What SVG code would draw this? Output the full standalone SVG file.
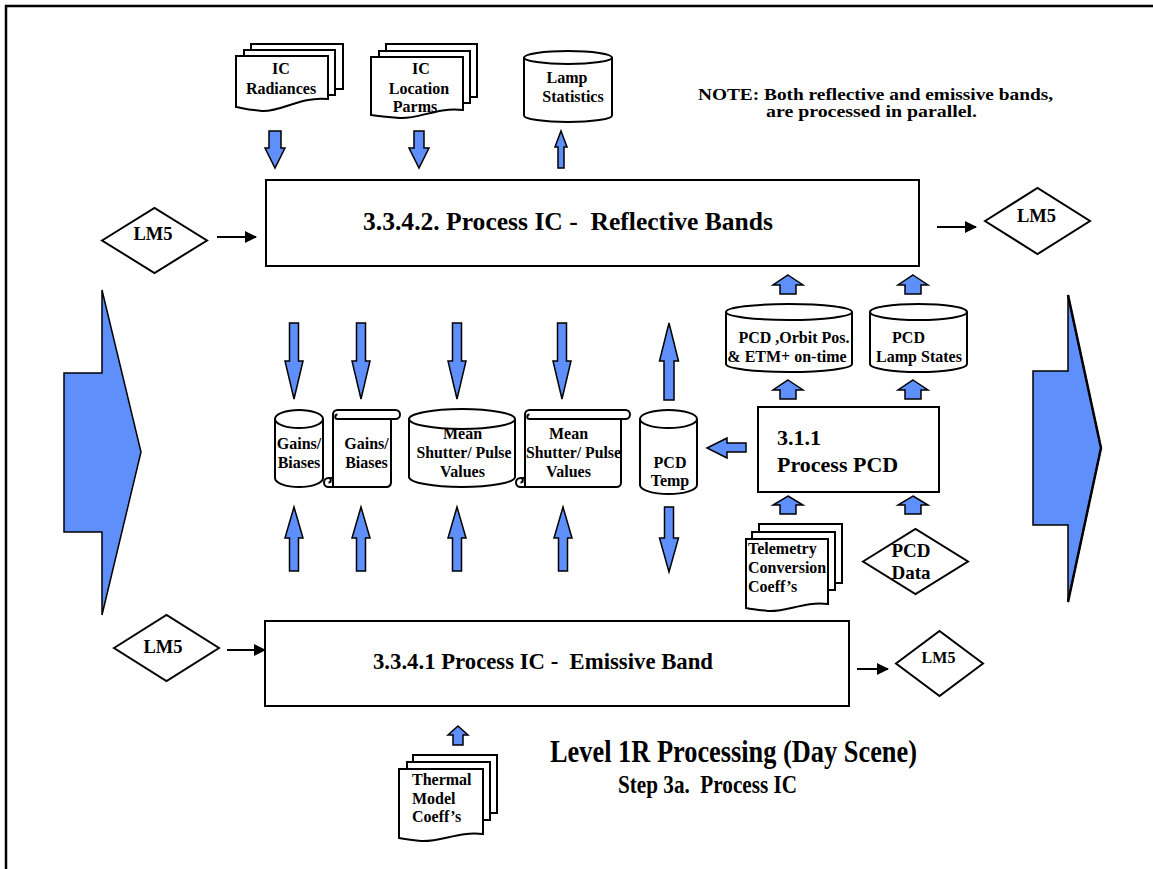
<svg xmlns="http://www.w3.org/2000/svg" width="1153" height="869" viewBox="0 0 1153 869">
  <style>
    .shape { fill: #fff; stroke: #000; stroke-width: 2; }
    .thin { fill: none; stroke: #000; stroke-width: 2; }
    .blk { fill: #5E8FFA; stroke: #000; stroke-width: 1.5; stroke-linejoin: miter; }
    .t { font-family: "Liberation Serif", "Times New Roman", serif; font-weight: bold; fill: #000; }
    .s16 { font-size: 16px; }
    .mid { text-anchor: middle; }
    .link { stroke: #000; stroke-width: 2; fill: none; marker-end: url(#head); }
  </style>
  <defs>
    <marker id="head" viewBox="0 0 12 12" refX="11" refY="6" markerWidth="12" markerHeight="12" markerUnits="userSpaceOnUse" orient="auto">
      <path d="M0,0 L12,6 L0,12 Z" fill="#000"/>
    </marker>
  </defs>

  <rect width="1153" height="869" fill="#fff"/>

  <!-- page frame: top and left rules -->
  <g id="frame">
    <path d="M6,869 V6 H1153" fill="none" stroke="#000" stroke-width="2.5"/>
  </g>

  <!-- large flow arrows at either side -->
  <g id="flow-in">
    <polygon class="blk" points="64,373 102,373 102,290 141,452 102,615 102,532 64,532"/>
  </g>
  <g id="flow-out">
    <polygon class="blk" points="1033,371 1068,371 1068,295 1101,448 1068,602 1068,525 1033,525"/>
    <polyline points="1068,295 1101,448 1068,602" fill="none" stroke="#000" stroke-width="2.5"/>
  </g>

  <!-- inputs above the reflective process -->
  <g id="ic-radiances">
    <rect class="shape" x="251" y="44" width="92" height="45"/>
    <rect class="shape" x="244" y="50" width="91" height="45"/>
    <path class="shape" d="M236,56 H328 V99 C300,96 282,112 262,111 C250,110 242,108 236,107 Z"/>
    <text class="t s16 mid" x="281" y="74">IC</text>
    <text class="t s16 mid" x="281" y="94">Radiances</text>
  </g>
  <g id="ic-location-parms">
    <rect class="shape" x="386" y="44" width="91" height="53"/>
    <rect class="shape" x="379" y="51" width="91" height="52"/>
    <path class="shape" d="M371,57 H463 V110 C436,107 420,119 400,118 C388,117 378,116 371,115 Z"/>
    <text class="t s16 mid" x="421" y="74">IC</text>
    <text class="t s16 mid" x="419" y="94">Location</text>
    <text class="t s16 mid" x="415" y="112">Parms</text>
  </g>
  <g id="lamp-statistics">
    <path class="shape" d="M524,57.5 V115.5 A44 6.5 0 0 0 612,115.5 V57.5 A44 6.5 0 0 0 524,57.5 Z"/>
    <path class="thin" d="M524,57.5 A44 6.5 0 0 0 612,57.5"/>
    <text class="t s16 mid" x="567" y="83">Lamp</text>
    <text class="t s16 mid" x="573" y="102">Statistics</text>
  </g>

  <text class="t" x="698" y="100" font-size="16" textLength="355" lengthAdjust="spacingAndGlyphs">NOTE: Both reflective and emissive bands,</text>
  <text class="t" x="766" y="117" font-size="16" textLength="211" lengthAdjust="spacingAndGlyphs">are processed in parallel.</text>

  <!-- reflective band process -->
  <g id="process-reflective">
    <rect class="shape" x="266" y="180" width="653" height="86"/>
    <text class="t" x="363" y="230" font-size="25" textLength="410" lengthAdjust="spacingAndGlyphs" xml:space="preserve">3.3.4.2. Process IC -  Reflective Bands</text>
  </g>

  <g id="lm5-refl-in">
    <polygon class="shape" points="102,240.5 154.5,208 207,240.5 154.5,273"/>
    <text class="t mid" x="153" y="240" font-size="18.5">LM5</text>
  </g>
  <g id="lm5-refl-out">
    <polygon class="shape" points="985,221 1037.5,188 1090,221 1037.5,254"/>
    <text class="t mid" x="1036.5" y="222" font-size="18.5">LM5</text>
  </g>

  <!-- stores shared by both processes -->
  <g id="gains-biases-store">
    <path class="shape" d="M275,419 V478 A24 9 0 0 0 323,478 V419 A24 9 0 0 0 275,419 Z"/>
    <path class="thin" d="M275,419 A24 9 0 0 0 323,419"/>
    <text class="t s16 mid" x="299" y="449">Gains/</text>
    <text class="t s16 mid" x="299" y="468">Biases</text>
  </g>
  <g id="gains-biases-file">
    <path class="shape" d="M337.5,410 H395.5 A4.5 4.5 0 0 1 395.5,419 H391 V482.5 A4.5 4.5 0 0 1 386.5,487 H328.5 A4.5 4.5 0 0 1 328.5,478 H333 V414.5 A4.5 4.5 0 0 1 337.5,410 Z"/>
    <path class="thin" d="M337.5,419 H391 M337.5,419 A2.25 2.25 0 0 1 337.5,414.5 M333,478 V487 M328.5,478 A2.25 2.25 0 0 1 328.5,482.5" stroke-width="1.5"/>
    <text class="t s16 mid" x="366.5" y="449">Gains/</text>
    <text class="t s16 mid" x="366.5" y="468">Biases</text>
  </g>
  <g id="mean-values-store">
    <path class="shape" d="M409,419 V477 A53 10 0 0 0 515,477 V419 A53 10 0 0 0 409,419 Z"/>
    <path class="thin" d="M409,419 A53 10 0 0 0 515,419"/>
    <text class="t s16 mid" x="462.5" y="439">Mean</text>
    <text class="t s16 mid" x="464" y="458" textLength="95" lengthAdjust="spacingAndGlyphs">Shutter/ Pulse</text>
    <text class="t s16 mid" x="462.5" y="477">Values</text>
  </g>
  <g id="mean-values-file">
    <path class="shape" d="M529.5,410 H625.5 A4.5 4.5 0 0 1 625.5,419 H621 V482.5 A4.5 4.5 0 0 1 616.5,487 H520.5 A4.5 4.5 0 0 1 520.5,478 H525 V414.5 A4.5 4.5 0 0 1 529.5,410 Z"/>
    <path class="thin" d="M529.5,419 H621 M529.5,419 A2.25 2.25 0 0 1 529.5,414.5 M525,478 V487 M520.5,478 A2.25 2.25 0 0 1 520.5,482.5" stroke-width="1.5"/>
    <text class="t s16 mid" x="568.5" y="439">Mean</text>
    <text class="t s16 mid" x="573.5" y="458" textLength="95" lengthAdjust="spacingAndGlyphs">Shutter/ Pulse</text>
    <text class="t s16 mid" x="568.5" y="477">Values</text>
  </g>
  <g id="pcd-temp">
    <path class="shape" d="M640,419 V485 A28.5 9 0 0 0 697,485 V419 A28.5 9 0 0 0 640,419 Z"/>
    <path class="thin" d="M640,419 A28.5 9 0 0 0 697,419"/>
    <text class="t s16 mid" x="670" y="468">PCD</text>
    <text class="t s16 mid" x="670" y="486">Temp</text>
  </g>

  <!-- PCD processing -->
  <g id="pcd-orbit">
    <path class="shape" d="M726,312 V364 A63 8 0 0 0 852,364 V312 A63 8 0 0 0 726,312 Z"/>
    <path class="thin" d="M726,312 A63 8 0 0 0 852,312"/>
    <text class="t s16 mid" x="794" y="343">PCD ,Orbit Pos.</text>
    <text class="t s16 mid" x="787" y="362">&amp; ETM+ on-time</text>
  </g>
  <g id="pcd-lamp-states">
    <path class="shape" d="M870,312 V364 A48.5 8 0 0 0 967,364 V312 A48.5 8 0 0 0 870,312 Z"/>
    <path class="thin" d="M870,312 A48.5 8 0 0 0 967,312"/>
    <text class="t s16 mid" x="908.5" y="343">PCD</text>
    <text class="t s16 mid" x="919" y="362">Lamp States</text>
  </g>
  <g id="process-pcd">
    <rect class="shape" x="758" y="407" width="181" height="85"/>
    <text class="t" x="777" y="445" font-size="22">3.1.1</text>
    <text class="t" x="777" y="472" font-size="22">Process PCD</text>
  </g>
  <g id="telemetry-coeffs">
    <rect class="shape" x="759" y="524" width="83" height="59"/>
    <rect class="shape" x="752" y="532" width="83" height="58"/>
    <path class="shape" d="M746,539 H828 V604 C804,601 788,612 768,611 C758,610 751,609 746,608 Z"/>
    <text class="t s16" x="748" y="554">Telemetry</text>
    <text class="t s16" x="748" y="573">Conversion</text>
    <text class="t s16" x="748" y="592">Coeff’s</text>
  </g>
  <g id="pcd-data">
    <polygon class="shape" points="863,561.5 915.5,529 968,561.5 915.5,594"/>
    <text class="t mid" x="911" y="557" font-size="19">PCD</text>
    <text class="t mid" x="911" y="579" font-size="19">Data</text>
  </g>

  <!-- emissive band process -->
  <g id="process-emissive">
    <rect class="shape" x="265" y="621" width="584" height="85"/>
    <text class="t" x="373" y="669" font-size="24" textLength="340" lengthAdjust="spacingAndGlyphs" xml:space="preserve">3.3.4.1 Process IC -  Emissive Band</text>
  </g>
  <g id="lm5-emis-in">
    <polygon class="shape" points="114,648 166.5,615 219,648 166.5,681"/>
    <text class="t mid" x="163" y="653" font-size="18.5">LM5</text>
  </g>
  <g id="lm5-emis-out">
    <polygon class="shape" points="896,663.5 939.5,631 983,663.5 939.5,696"/>
    <text class="t mid" x="938.5" y="663" font-size="16">LM5</text>
  </g>
  <g id="thermal-coeffs">
    <rect class="shape" x="413" y="755" width="84" height="58"/>
    <rect class="shape" x="407" y="762" width="83" height="58"/>
    <path class="shape" d="M399,769 H483 V834 C458,831 442,842 421,841 C411,840 404,839 399,838 Z"/>
    <text class="t s16" x="412" y="785">Thermal</text>
    <text class="t s16" x="412" y="804">Model</text>
    <text class="t s16" x="412" y="822">Coeff’s</text>
  </g>

  <!-- title -->
  <g id="title">
    <text class="t" x="550" y="762" font-size="32" textLength="367" lengthAdjust="spacingAndGlyphs">Level 1R Processing (Day Scene)</text>
    <text class="t" x="618" y="793" font-size="25" textLength="179" lengthAdjust="spacingAndGlyphs" xml:space="preserve">Step 3a.  Process IC</text>
  </g>

  <!-- connectors -->
  <g id="connectors">
    <line class="link" x1="217" y1="237" x2="256" y2="237"/>
    <line class="link" x1="937" y1="227" x2="976" y2="227"/>
    <line class="link" x1="227" y1="650" x2="265" y2="650"/>
    <line class="link" x1="857" y1="669" x2="888" y2="669"/>

    <polygon class="blk" points="269,131 281,131 281,148 285,148 275,168 265,148 269,148"/>
    <polygon class="blk" points="414,131 424,131 424,148 429,148 419,168 409,148 414,148"/>
    <polygon class="blk" points="561,131 567,147 564,147 564,168 558,168 558,147 555,147"/>

    <polygon class="blk" points="289.5,323 298.5,323 298.5,361 303,361 294,399 285,361 289.5,361"/>
    <polygon class="blk" points="356.5,323 365.5,323 365.5,361 370,361 361,399 352,361 356.5,361"/>
    <polygon class="blk" points="452.5,323 461.5,323 461.5,361 466,361 457,399 448,361 452.5,361"/>
    <polygon class="blk" points="557.5,323 566.5,323 566.5,361 571,361 562,399 553,361 557.5,361"/>
    <polygon class="blk" points="669,323 678.5,361 674,361 674,400 664,400 664,361 659.5,361"/>

    <polygon class="blk" points="294,507 303,538 298.5,538 298.5,571 289.5,571 289.5,538 285,538"/>
    <polygon class="blk" points="361,507 370,538 365.5,538 365.5,571 356.5,571 356.5,538 352,538"/>
    <polygon class="blk" points="457,507 466,538 461.5,538 461.5,571 452.5,571 452.5,538 448,538"/>
    <polygon class="blk" points="563,507 572,538 567.5,538 567.5,571 558.5,571 558.5,538 554,538"/>
    <polygon class="blk" points="664.5,507 673.5,507 673.5,538 678.5,538 669,572 659.5,538 664.5,538"/>

    <polygon class="blk" points="788,275 803,285 796,285 796,294 780,294 780,285 773,285"/>
    <polygon class="blk" points="913,275 928,285 921,285 921,294 905,294 905,285 898,285"/>
    <polygon class="blk" points="788,380 803,390 796,390 796,399 780,399 780,390 773,390"/>
    <polygon class="blk" points="913,380 928,390 921,390 921,399 905,399 905,390 898,390"/>
    <polygon class="blk" points="788,496 803,505 796,505 796,514 780,514 780,505 773,505"/>
    <polygon class="blk" points="913,496 928,505 921,505 921,514 905,514 905,505 898,505"/>

    <polygon class="blk" points="707,448 727,438 727,443 746,443 746,452 727,452 727,458"/>
    <polygon class="blk" points="458,726 468,735 463,735 463,745 453,745 453,735 448,735"/>
  </g>
</svg>
